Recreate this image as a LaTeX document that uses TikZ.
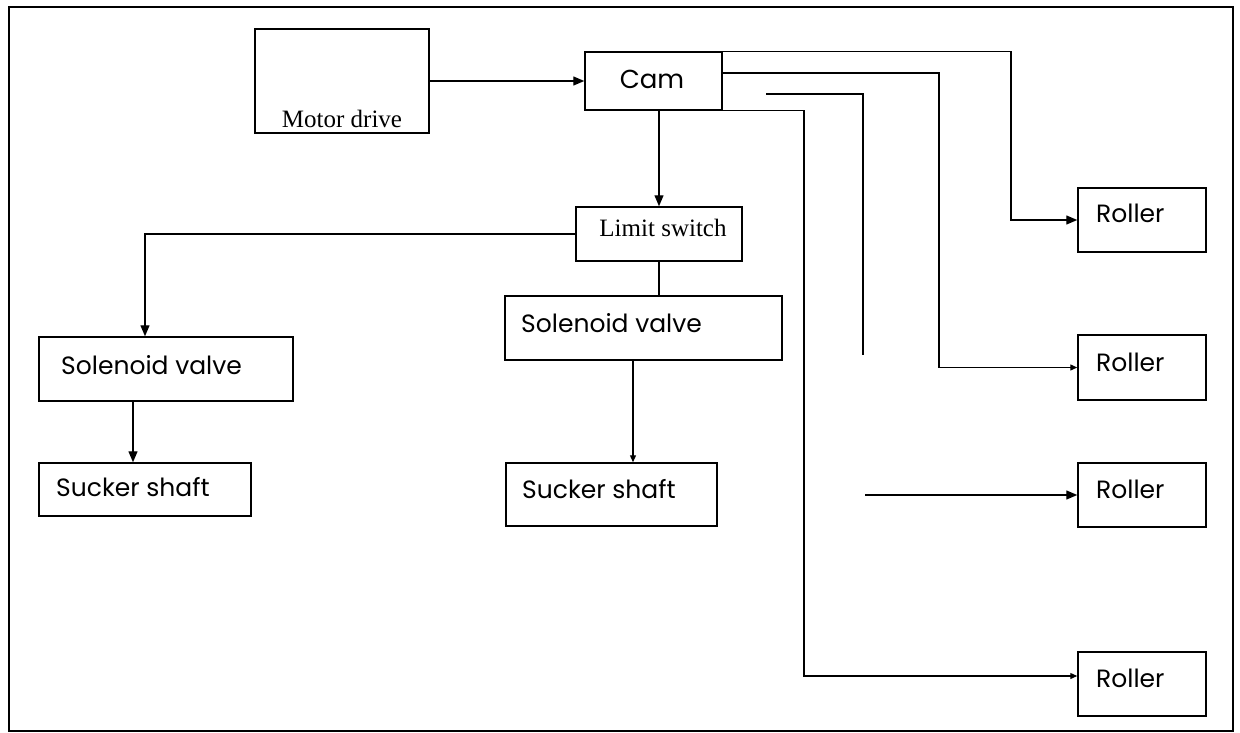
\documentclass[tikz,border=0pt]{standalone}
\usepackage{fontspec}
\setmainfont{Liberation Serif}
\newfontfamily\gothic{Poppins}
\usetikzlibrary{arrows.meta}
\tikzset{
  box/.style={draw, line width=1.5pt, rectangle, inner sep=0pt},
  lbl/.style={inner sep=0pt, font=\gothic\fontsize{25}{28}\selectfont},
  slbl/.style={inner sep=0pt, font=\fontsize{25}{28}\selectfont},
  conn/.style={line width=1.3pt},
  arr/.style={conn, -{Triangle[length=11pt,width=9pt]}},
  sarr/.style={conn, -{Triangle[length=7pt,width=6pt]}}
}
\begin{document}
\begin{tikzpicture}[x=1pt,y=-1pt]
\useasboundingbox (0,0) rectangle (1240,733);
\draw[line width=2pt] (9,7) rectangle (1233,731);
% boxes
\node[box, minimum width=174pt, minimum height=104pt] (motor) at (342,81) {};
\node[box, minimum width=137pt, minimum height=58pt] (cam) at (653.5,81) {};
\node[box, minimum width=166pt, minimum height=54pt] (limit) at (659,234) {};
\node[box, minimum width=254pt, minimum height=64pt] (sv1) at (166,369) {};
\node[box, minimum width=212pt, minimum height=53pt] (ss1) at (145,489.5) {};
\node[box, minimum width=277pt, minimum height=64pt] (sv2) at (643.5,328) {};
\node[box, minimum width=211pt, minimum height=63pt] (ss2) at (611.5,494.5) {};
\node[box, minimum width=128pt, minimum height=64pt] (r1) at (1142,220) {};
\node[box, minimum width=128pt, minimum height=65pt] (r2) at (1142,367.5) {};
\node[box, minimum width=128pt, minimum height=64pt] (r3) at (1142,495) {};
\node[box, minimum width=128pt, minimum height=64pt] (r4) at (1142,684) {};
% texts
\node[slbl] (tmotor) at (342,119) {Motor drive};
\node[lbl, font=\gothic\fontsize{26}{28}\selectfont] (tcam) at (652,79) {Cam};
\node[slbl] (tlimit) at (663,228) {Limit switch};
\node[lbl, anchor=west] (tsv1) at (61,365) {Solenoid valve};
\node[lbl, anchor=west] (tss1) at (56,487) {Sucker shaft};
\node[lbl, anchor=west] (tsv2) at (521,323) {Solenoid valve};
\node[lbl, anchor=west] (tss2) at (522,489) {Sucker shaft};
\node[lbl, anchor=west] (tr1) at (1096,213) {Roller};
\node[lbl, anchor=west] (tr2) at (1096,362) {Roller};
\node[lbl, anchor=west] (tr3) at (1096,489) {Roller};
\node[lbl, anchor=west] (tr4) at (1096,678) {Roller};
% helper coordinates
\coordinate (k1) at (145,0);
\coordinate (k2) at (133,0);
\coordinate (k3) at (633,0);
\coordinate (k4) at (1011,0);
\coordinate (k5) at (939,0);
\coordinate (k6) at (804,0);
\coordinate (q1) at (766,94);
\coordinate (q2) at (863,355);
\coordinate (q3) at (865,495);
% connectors
\draw[arr] (motor.east) -- (cam.west);
\draw[arr] (limit.north |- cam.south) -- (limit.north);
\draw[arr] (limit.west) -| (k1 |- sv1.north);
\draw[arr] (k2 |- sv1.south) -- (k2 |- ss1.north);
\draw[conn] (limit.south) -- (limit.south |- sv2.north);
\draw[sarr] (k3 |- sv2.south) -- (k3 |- ss2.north);
\draw[arr] (cam.north east) -| (k4 |- r1.west) -- (r1.west);
\draw[sarr] ([yshift=8pt]cam.east) -| (k5 |- r2.west) -- (r2.west);
\draw[conn] (q1) -| (q2);
\draw[arr] (q3) -- (r3.west);
\draw[sarr] (cam.south east) -| ([yshift=8pt]k6 |- r4.west) -- ([yshift=8pt]r4.west);
\end{tikzpicture}
\end{document}
